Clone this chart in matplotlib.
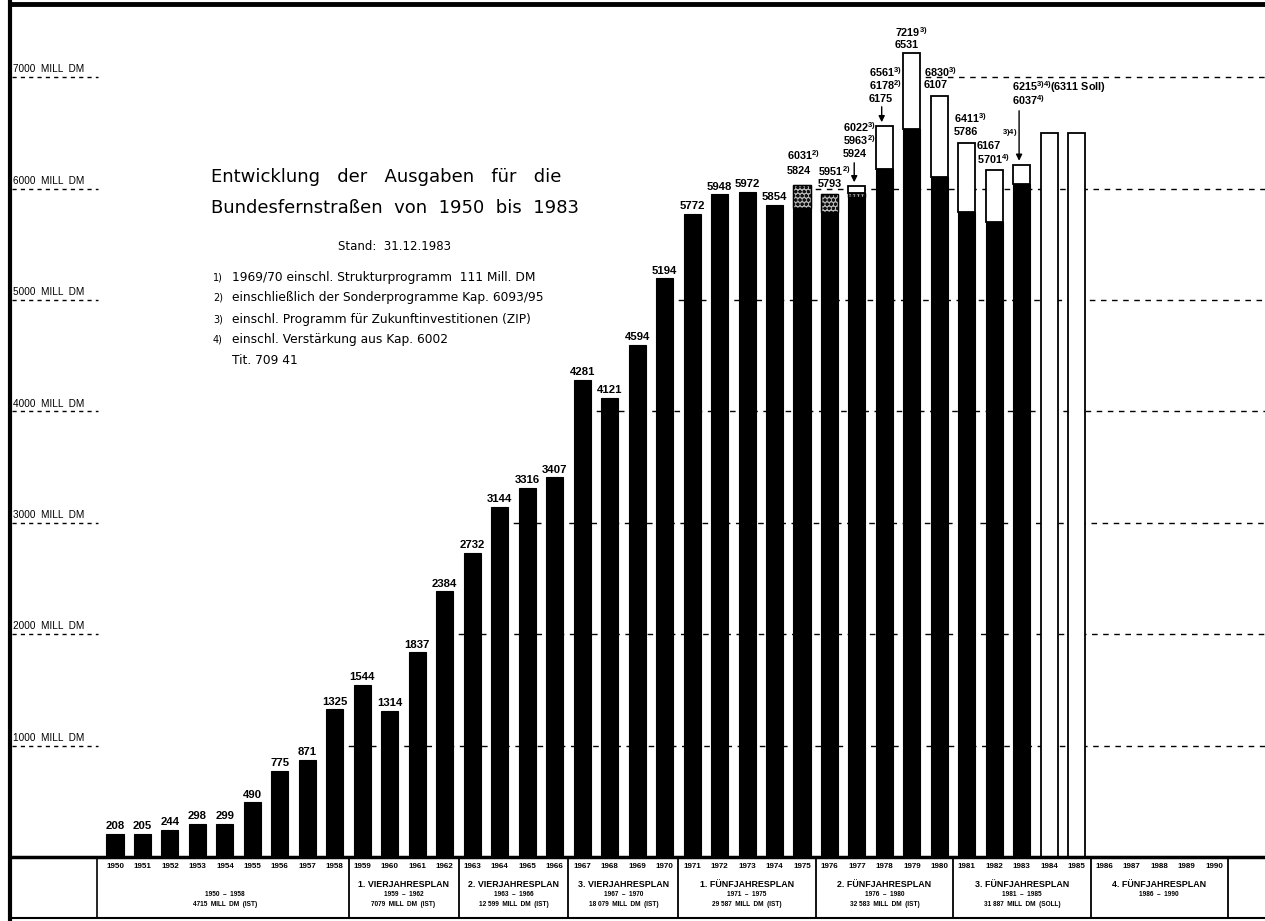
import matplotlib
matplotlib.use("Agg")
import matplotlib.pyplot as plt

# ---------------- data ----------------
years = list(range(1950, 1986))
base_values = [208, 205, 244, 298, 299, 490, 775, 871, 1325, 1544, 1314, 1837, 2384,
               2732, 3144, 3316, 3407, 4281, 4121, 4594, 5194, 5772, 5948, 5972, 5854,
               5824, 5793, 5924, 6175, 6531, 6107, 5786, 5701, 6037, 0, 0]
sonder_years = [1975, 1976, 1977, 1978]
sonder_top = [6031, 5951, 5963, 6178]
total_years = [1977, 1978, 1979, 1980, 1981, 1982, 1983, 1984, 1985]
total_top = [6022, 6561, 7219, 6830, 6411, 6167, 6215, 6500, 6500]

grid_levels = [1000, 2000, 3000, 4000, 5000, 6000, 7000]
grid_labels = ["1000  MILL  DM", "2000  MILL  DM", "3000  MILL  DM", "4000  MILL  DM",
               "5000  MILL  DM", "6000  MILL  DM", "7000  MILL  DM"]

table_years = list(range(1950, 1991))
plan_start = [1950, 1959, 1963, 1967, 1971, 1976, 1981, 1986]
plan_end = [1958, 1962, 1966, 1970, 1975, 1980, 1985, 1990]
plan_names = ["", "1. VIERJAHRESPLAN", "2. VIERJAHRESPLAN", "3. VIERJAHRESPLAN",
              "1. FÜNFJAHRESPLAN", "2. FÜNFJAHRESPLAN", "3. FÜNFJAHRESPLAN",
              "4. FÜNFJAHRESPLAN"]
plan_ranges = ["1950  –  1958", "1959  –  1962", "1963  –  1966", "1967  –  1970",
               "1971  –  1975", "1976  –  1980", "1981  –  1985", "1986  –  1990"]
plan_sums = ["4715  MILL  DM  (IST)", "7079  MILL  DM  (IST)", "12 599  MILL  DM  (IST)",
             "18 079  MILL  DM  (IST)", "29 587  MILL  DM  (IST)", "32 583  MILL  DM  (IST)",
             "31 887  MILL  DM  (SOLL)", ""]

# stacked labels (year, lines)
stack_labels = {
    1975: [r"6031$^{2)}$", "5824"],
    1976: [r"5951$^{2)}$", "5793"],
    1977: [r"6022$^{3)}$", r"5963$^{2)}$", "5924"],
    1978: [r"6561$^{3)}$", r"6178$^{2)}$", "6175"],
    1979: [r"7219$^{3)}$", "6531"],
    1980: [r"6830$^{3)}$", "6107"],
    1981: [r"6411$^{3)}$", "5786"],
    1982: ["6167", r"5701$^{4)}$"],
    1983: [r"6215$^{3)4)}$(6311 Soll)", r"6037$^{4)}$"],
}

# ---------------- figure ----------------
W, H = 1265, 921
plt.rcParams['mathtext.fontset'] = 'custom'
plt.rcParams['mathtext.rm'] = 'Liberation Sans:bold'
plt.rcParams['mathtext.it'] = 'Liberation Sans:bold'
plt.rcParams['mathtext.bf'] = 'Liberation Sans:bold'
plt.rcParams['mathtext.default'] = 'rm'

fig = plt.figure(figsize=(W / 100, H / 100), dpi=100)
ax = fig.add_axes([0, 0, 1, 1])

X0, DX = 115.0, 27.48      # pixel of 1950 and pixels per year
Y0, KY = 857.0, 0.1114     # baseline pixel and pixels per DM


def xd(px):
    return 1950 + (px - X0) / DX


def yd(py):
    return (Y0 - py) / KY


ax.set_xlim(xd(0), xd(W))
ax.set_ylim(yd(H), yd(0))
ax.axis('off')


def fx(px):
    return px / W


def fy(py):
    return 1 - py / H


NUMFONT = dict(family='Liberation Sans', fontweight='bold')
BW = 0.62

# highest value per year (for gridline start)
allv = list(base_values)
for y, t in zip(sonder_years, sonder_top):
    allv[years.index(y)] = max(allv[years.index(y)], t)
for y, t in zip(total_years, total_top):
    allv[years.index(y)] = max(allv[years.index(y)], t)

# gridlines: dashed from first bar exceeding level to the right edge
for lvl, lab in zip(grid_levels, grid_labels):
    first = next(y for y, v in zip(years, allv) if v >= lvl)
    ax.plot([first - BW / 2, xd(W)], [lvl, lvl], color='black', lw=1.0,
            ls=(0, (4, 4)), zorder=1)
    ax.plot([xd(12), xd(98)], [lvl, lvl], color='black', lw=1.0,
            ls=(0, (3, 3)), zorder=1)
    ax.text(xd(13), lvl + 25, lab, ha='left', va='bottom', fontsize=7.2,
            family='Liberation Sans', zorder=3)

# black base bars
ax.bar(years, base_values, width=BW, color='black', edgecolor='black', lw=0.8, zorder=3)

# stippled Sonderprogramm segments
for y, t in zip(sonder_years, sonder_top):
    b = base_values[years.index(y)]
    ax.bar(y, t - b, bottom=b, width=BW, facecolor='#b8b8b8', edgecolor='#111111',
           hatch='oooo', lw=0.8, zorder=3)
    ax.bar(y, t - b, bottom=b, width=BW, facecolor='none', edgecolor='black',
           lw=1.0, zorder=4)

# white (ZIP / Soll) segments
for y, t in zip(total_years, total_top):
    i = years.index(y)
    b = base_values[i]
    if y in sonder_years:
        b = max(b, sonder_top[sonder_years.index(y)])
    ax.bar(y, t - b, bottom=b, width=BW, facecolor='white', edgecolor='black',
           lw=1.3, zorder=3)

# simple value labels
for y, v in zip(years, base_values):
    if 0 < v and y < 1975:
        ax.text(y, v + 25, str(v), ha='center', va='bottom', fontsize=8.2, zorder=5,
                **NUMFONT)

# stacked labels (pixel positions of first line centre)
label_pos = {
    1975: (787, 155), 1976: (818, 171), 1977: (843, 127), 1978: (869, 72),
    1979: (895, 32), 1980: (924, 72), 1981: (954, 118), 1982: (977, 146),
    1983: (1012, 87),
}
for y, lines in stack_labels.items():
    px, py = label_pos[y]
    for k, s in enumerate(lines):
        yy = py + k * 13.5
        if y == 1975 and k == 1:
            yy = 171
        if y == 1976 and k == 1:
            yy = 184
        ax.text(xd(px), yd(yy), s, ha='left', va='center', fontsize=7.8, zorder=5,
                **NUMFONT)
ax.text(xd(1002), yd(134), r"$^{3)4)}$", ha='left', va='center', fontsize=7.8,
        **NUMFONT)

# arrows
for y, start_py in [(1977, 160), (1978, 104), (1983, 108)]:
    t = total_top[total_years.index(y)]
    ax.annotate('', xy=(y - 0.1, t + 10), xytext=(y - 0.1, yd(start_py)),
                arrowprops=dict(arrowstyle='-|>', color='black', lw=1.0,
                                mutation_scale=9), zorder=6)

# ---------------- table ----------------
ax.plot([xd(10), xd(W)], [0, 0], color='black', lw=2.5, zorder=4)
ax.plot([xd(10), xd(W)], [yd(918), yd(918)], color='black', lw=1.5, zorder=4)
ax.plot([xd(97), xd(97)], [0, yd(918)], color='black', lw=1.2)
for s, e in zip(plan_start, plan_end):
    ax.plot([e + 0.5, e + 0.5], [0, yd(918)], color='black', lw=1.3)
for y in table_years:
    ax.text(y, yd(866), str(y), ha='center', va='center', fontsize=5.8,
            **NUMFONT)
for s, e, n, r, m in zip(plan_start, plan_end, plan_names, plan_ranges, plan_sums):
    cx = (s + e) / 2
    if n:
        ax.text(cx, yd(884), n, ha='center', va='center', fontsize=6.4, **NUMFONT)
    ax.text(cx, yd(894), r, ha='center', va='center', fontsize=4.7, **NUMFONT)
    if m:
        ax.text(cx, yd(904), m, ha='center', va='center', fontsize=4.7, **NUMFONT)

# frame lines
ax.plot([xd(10), xd(10)], [yd(0), yd(H)], color='black', lw=3)
ax.plot([xd(10), xd(W)], [yd(4), yd(4)], color='black', lw=3.5)

# ---------------- title block ----------------
TF = dict(family='DejaVu Sans')
fig.text(fx(211), fy(182), "Entwicklung   der   Ausgaben   für   die", ha='left',
         va='baseline', fontsize=13, **TF)
fig.text(fx(211), fy(213), "Bundesfernstraßen  von  1950  bis  1983", ha='left',
         va='baseline', fontsize=13, **TF)
fig.text(fx(395), fy(247), "Stand:  31.12.1983", ha='center', va='center',
         fontsize=8.5, **TF)
notes = ["1969/70 einschl. Strukturprogramm  111 Mill. DM",
         "einschließlich der Sonderprogramme Kap. 6093/95",
         "einschl. Programm für Zukunftinvestitionen (ZIP)",
         "einschl. Verstärkung aus Kap. 6002"]
for k, s in enumerate(notes):
    yy = 277 + k * 21
    fig.text(fx(213), fy(yy), f"{k + 1})", ha='left', va='center', fontsize=7, **TF)
    fig.text(fx(232), fy(yy), s, ha='left', va='center', fontsize=8.8, **TF)
fig.text(fx(232), fy(277 + 4 * 21), "Tit. 709 41", ha='left', va='center',
         fontsize=8.8, **TF)

fig.savefig("out.png", dpi=100)
